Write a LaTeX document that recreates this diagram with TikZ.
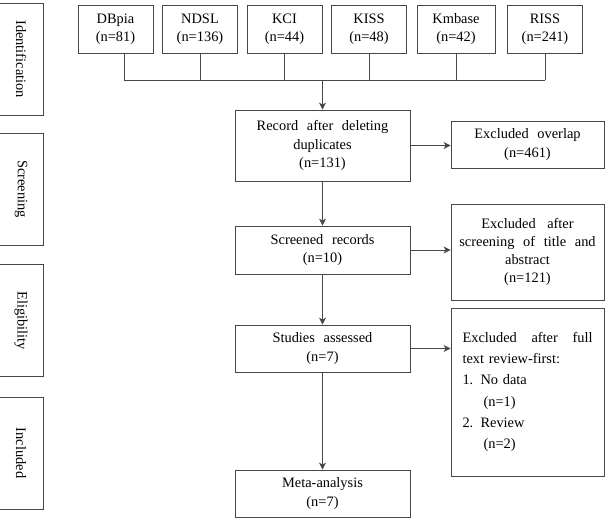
\documentclass[tikz,border=0pt]{standalone}
\usepackage{fontspec}
\setmainfont{Liberation Serif}
\usetikzlibrary{arrows.meta}
\definecolor{linegray}{gray}{0.28}
\newcommand{\flowfont}{\fontsize{14.4}{18.3}\selectfont\spaceskip=0.6em plus 0.3em minus 0.1em\relax}
\newcommand{\listfont}{\fontsize{14.4}{21.2}\selectfont\spaceskip=0.6em plus 0.3em minus 0.1em\relax}
\begin{document}
\begin{tikzpicture}[x=1pt,y=-1pt,->,>={Stealth[length=7pt,width=7pt,inset=2pt]},
  line width=0.8pt,draw=linegray,
  box/.style={draw=linegray,line width=0.8pt,align=center,inner sep=2pt,font=\flowfont},
  dbbox/.style={box,minimum width=75pt,minimum height=48pt},
  phase/.style={box,rotate=-90,minimum width=112pt,minimum height=44pt},
  stage/.style={box,minimum width=175pt},
  excl/.style={box,minimum width=153pt}]
\useasboundingbox (0,0) rectangle (608,522);
% databases
\node[dbbox] (DB) at (115.5,29) {DBpia\\(n=81)};
\node[dbbox] (ND) at (200,29) {NDSL\\(n=136)};
\node[dbbox] (KC) at (284.5,29) {KCI\\(n=44)};
\node[dbbox] (KI) at (369,29) {KISS\\(n=48)};
\node[dbbox,minimum width=78pt] (KM) at (456,29) {Kmbase\\(n=42)};
\node[dbbox] (RI) at (545,29) {RISS\\(n=241)};
\coordinate (J) at (322.5,80);
\coordinate (DBj) at (124,53);
% phases
\node[phase] (P1) at (21,59) {Identification};
\node[phase] (P2) at (21,189) {Screening};
\node[phase] (P3) at (21,320.5) {Eligibility};
\node[phase] (P4) at (21,453) {Included};
% main flow
\node[stage,minimum height=71pt] (R) at (322.5,145.5) {Record after deleting\\duplicates\\(n=131)};
\node[stage,minimum height=48pt] (S) at (322.5,250) {Screened records\\(n=10)};
\node[stage,minimum height=47pt] (A) at (322.5,348.5) {Studies assessed\\(n=7)};
\node[stage,minimum height=47pt] (M) at (322.5,493.5) {Meta-analysis\\(n=7)};
% exclusions
\node[excl,minimum height=47pt] (XO) at (527.5,144.5) {Excluded overlap\\(n=461)};
\node[excl,minimum height=96pt] (XS) at (527.5,252) {Excluded\hspace{0.2em} after\\screening of title and\\abstract\\(n=121)};
\node[excl,minimum height=168pt,align=left,text width=130pt,font=\listfont] (XF) at (527.5,392)
  {\makebox[130pt]{Excluded\hfill after\hfill full}\\text review-first:\\1. No data\\\hspace*{21pt}(n=1)\\2. Review\\\hspace*{21pt}(n=2)};
\path[-]
  (DBj) edge (DBj |- J)
  (ND.south) edge (ND.south |- J)
  (KC.south) edge (KC.south |- J)
  (KI.south) edge (KI.south |- J)
  (KM.south) edge (KM.south |- J)
  (RI.south) edge (RI.south |- J)
  (DBj |- J) edge (RI.south |- J)
;
\path
  (J) edge (R.north)
  (R) edge (S)
  (S) edge (A)
  (A) edge (M)
  (R.east) edge (R.east -| XO.west)
  (S.east) edge (S.east -| XS.west)
  (A.east) edge (A.east -| XF.west)
;
\end{tikzpicture}
\end{document}
